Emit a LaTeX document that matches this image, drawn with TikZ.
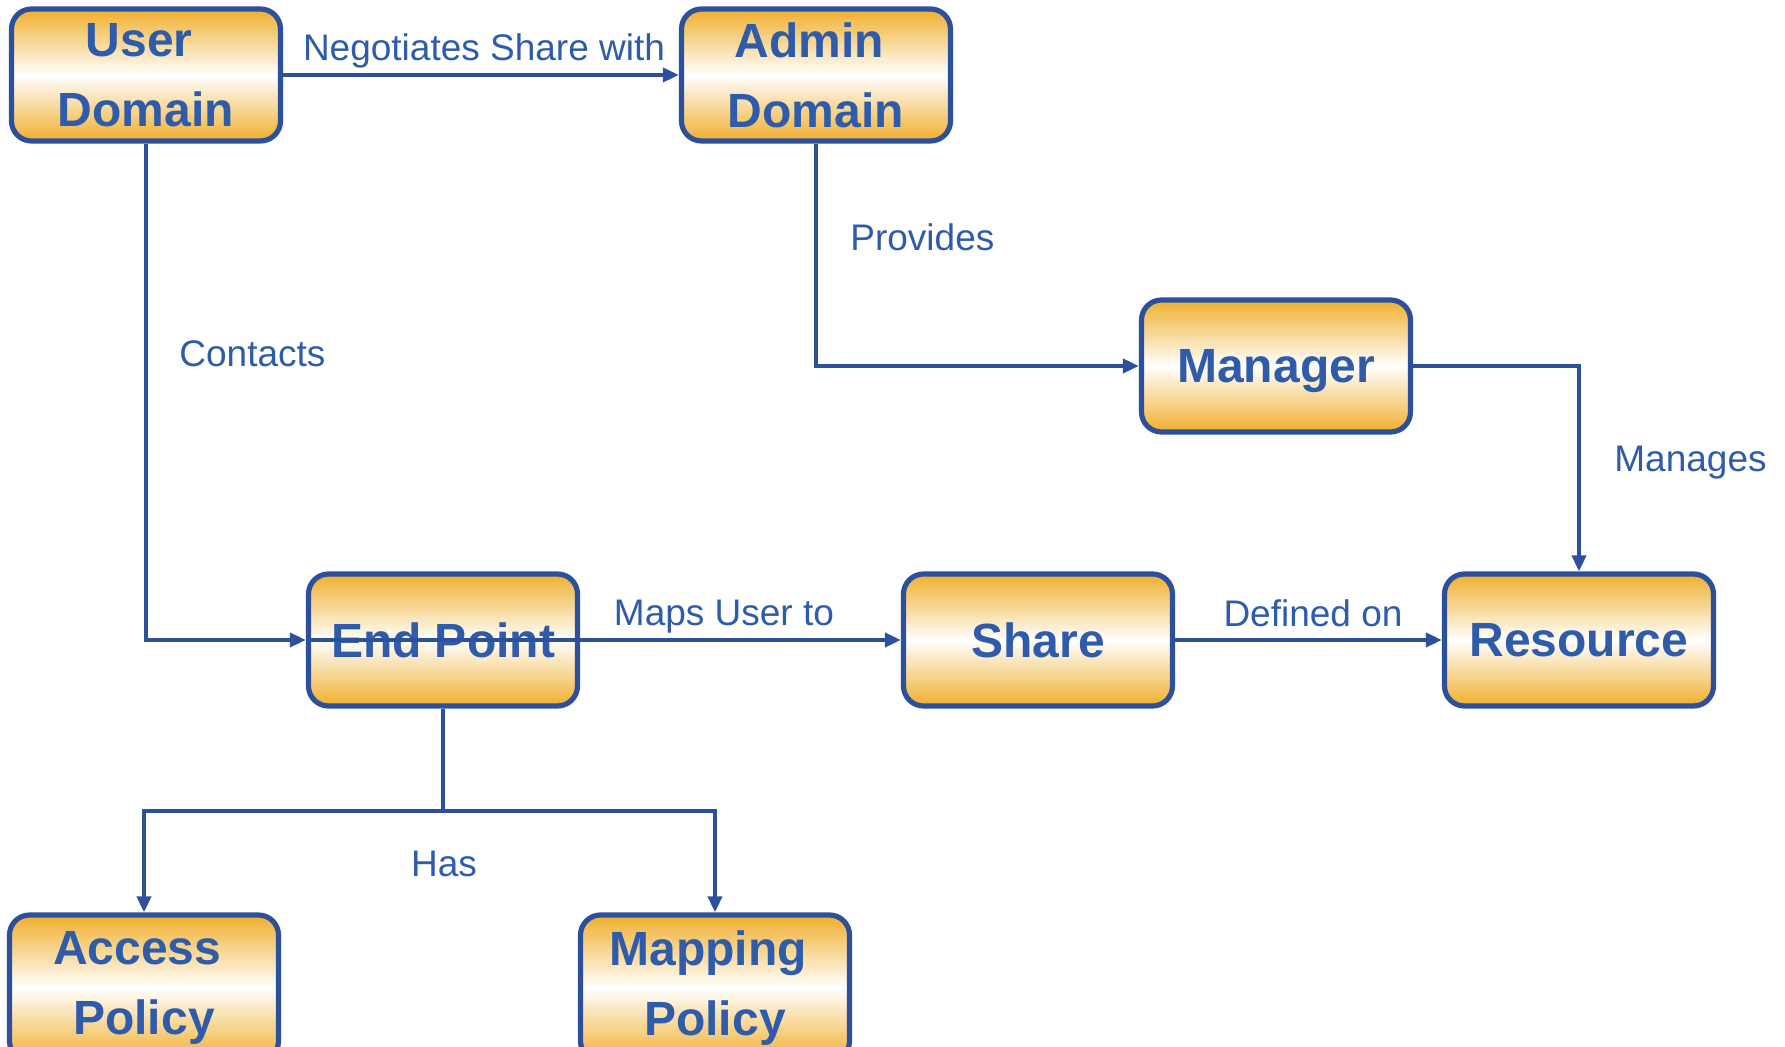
\documentclass[tikz,border=0pt]{standalone}
\usepackage{fontspec}
\setmainfont{Liberation Sans}
\usetikzlibrary{arrows.meta}
\definecolor{ublue}{RGB}{47,92,170}
\definecolor{bord}{RGB}{44,80,155}
\definecolor{uorange}{RGB}{240,175,45}
\newcommand{\tsp}{\hspace*{6.7pt}}
\tikzset{
 box/.style={draw=bord, line width=2.6pt, rounded corners=10pt, minimum width=134.5pt, minimum height=66pt,
   top color=uorange, bottom color=uorange, middle color=white, text=ublue,
   font=\bfseries\fontsize{24}{35}\selectfont, align=center, inner sep=0pt},
 tallbox/.style={box, minimum height=73pt},
 link/.style={draw=bord, line width=1.9pt},
 conn/.style={link, -{Triangle[length=8pt,width=7pt]}},
 lbl/.style={text=ublue, font=\fontsize{18.5}{22}\selectfont, inner sep=0pt}
}
\begin{document}
\begin{tikzpicture}[x=0.5pt,y=-0.5pt]
\useasboundingbox (0,0) rectangle (1785,1047);
\node[box] (ud) at (146,75) {User\tsp\\Domain};
\node[box] (ad) at (816,75) {Admin\tsp\\Domain};
\node[box, text depth=0pt] (mg) at (1276,366) {Manager};
\node[box] (ep) at (443,640) {End Point};
\node[box] (sh) at (1038,640) {Share};
\node[box] (rs) at (1579,640) {Resource};
\node[tallbox] (ap) at (144,988) {Access\tsp\\Policy};
\node[tallbox] (mp) at (715,988) {Mapping\tsp\\Policy};
\coordinate (hb) at (443,811);

\draw[conn] (ud.east) -- (ad.west);
\draw[conn] (ud.south) |- (ep.west);
\draw[conn] (ad.south) |- (mg.west);
\draw[conn] (mg.east) -| (rs.north);
\draw[conn] (ep.west) -- (sh.west);
\draw[conn] (sh.east) -- (rs.west);
\draw[link] (ep.south) -- (hb);
\draw[conn] (hb) -| (ap.north);
\draw[conn] (hb) -| (mp.north);

\node[lbl] (l1) at (484,51) {Negotiates Share with};
\node[lbl, anchor=west] (l2) at (179,354) {Contacts};
\node[lbl, anchor=west] (l3) at (850,237) {Provides};
\node[lbl, anchor=west] (l4) at (1614,463) {Manages};
\node[lbl] (l5) at (724,617) {Maps User to};
\node[lbl] (l6) at (1313,613) {Defined on};
\node[lbl] (l7) at (444,864) {Has};
\end{tikzpicture}
\end{document}
